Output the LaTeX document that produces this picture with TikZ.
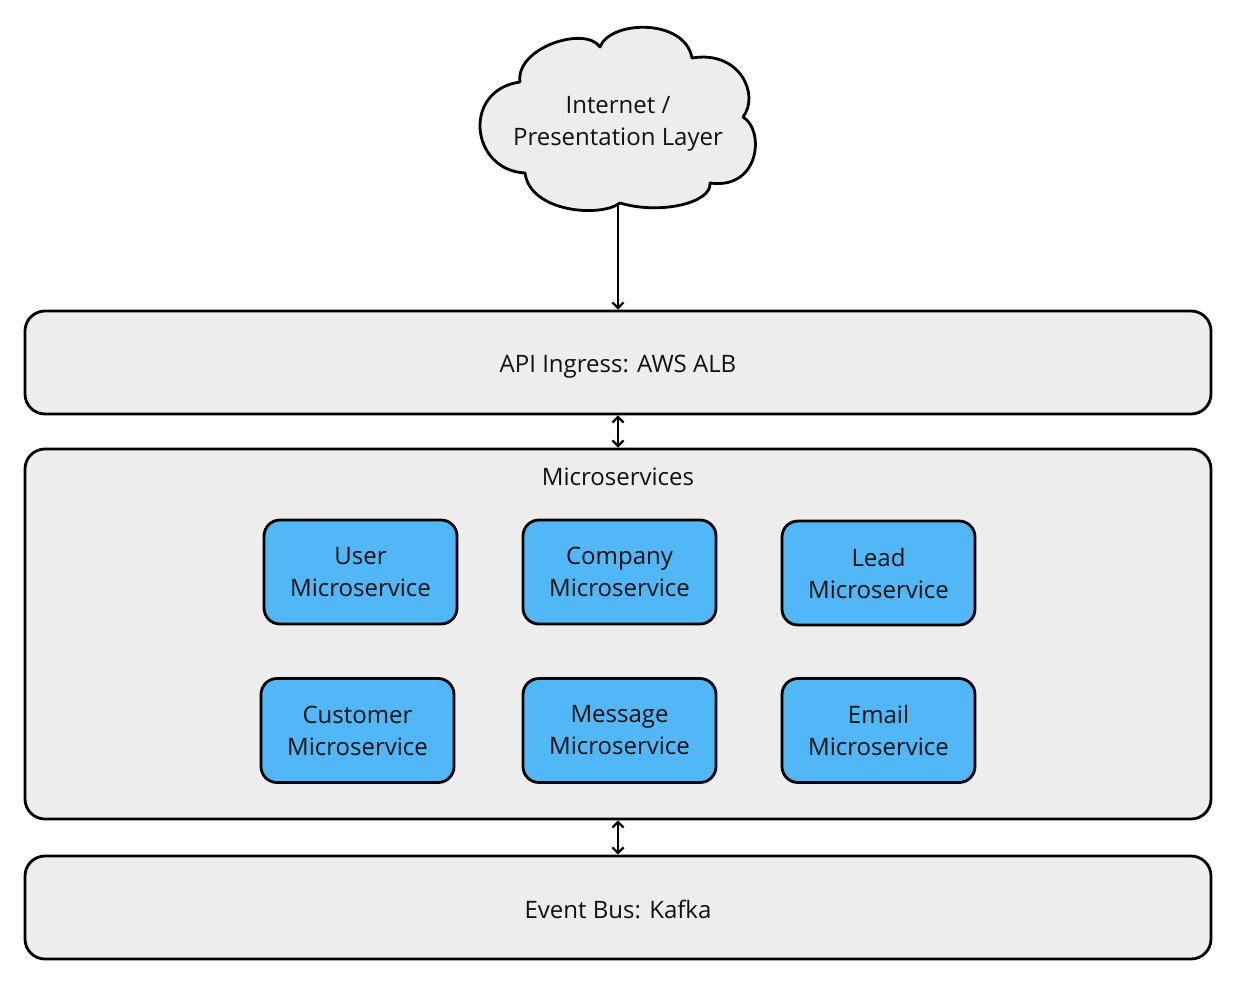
\documentclass[tikz,border=0pt]{standalone}
\usepackage{fontspec}
\setmainfont{Open Sans}
\usetikzlibrary{arrows.meta}
\definecolor{layergrey}{HTML}{EDEDED}
\definecolor{svcblue}{HTML}{52B7F7}
\definecolor{ink}{HTML}{111111}
\tikzset{
  txt/.style={text=ink, font=\fontsize{24}{32}\selectfont},
  layer/.style={draw=black, line width=2.8pt, fill=layergrey, rounded corners=20pt, minimum width=1186pt, inner sep=0pt, txt},
  svc/.style={draw=black, line width=2.8pt, fill=svcblue, rounded corners=16pt, minimum width=193pt, minimum height=104pt, inner sep=0pt, align=center, txt},
  conn/.style={line width=2.3pt, -{Straight Barb[length=5.5pt,width=11pt,line width=2.3pt]}},
  dconn/.style={line width=2.3pt, {Straight Barb[length=5.5pt,width=11pt,line width=2.3pt]}-{Straight Barb[length=5.5pt,width=11pt,line width=2.3pt]}},
  lbl/.style={txt, align=center}
}
\begin{document}
\begin{tikzpicture}[x=1pt,y=-1pt]
\useasboundingbox (0,0) rectangle (1240,988);
% cloud
\draw[line width=2.8pt, fill=layergrey, line join=round]
  (520,82) .. controls (515,48) and (585,25) .. (600,47)
  .. controls (610,20) and (685,18) .. (692,58)
  .. controls (740,50) and (760,95) .. (743,117)
  .. controls (765,130) and (760,190) .. (710,183)
  .. controls (712,203) and (660,215) .. (620,203)
  .. controls (600,218) and (530,212) .. (525,173)
  .. controls (470,170) and (462,90) .. (520,82) -- cycle;
\node[lbl] (cloud) at (618,124) {Internet /\\Presentation Layer};
\coordinate (cloudbot) at (618,204);
% layers
\node[layer, minimum height=103pt] (api) at (618,362.5) {\raisebox{-4pt}[\height][\depth]{API Ingress: AWS ALB}};
\node[layer, minimum height=370pt] (ms) at (618,634) {};
\node[lbl, anchor=center] (mslbl) at (618,477) {Microservices};
\node[layer, minimum height=103pt] (bus) at (618,907.5) {\raisebox{-2pt}[\height][\depth]{Event Bus: Kafka}};
% services
\node[svc] (user) at (360.5,572) {User\\Microservice};
\node[svc] (company) at (619.5,572) {Company\\Microservice};
\node[svc] (lead) at (878.5,573) {Lead\\Microservice};
\node[svc] (customer) at (357.5,730.5) {Customer\\Microservice};
\node[svc] (message) at (619.5,730.5) {Message\\Microservice};
\node[svc] (email) at (878.5,730.5) {Email\\Microservice};
% connectors
\draw[conn] (cloudbot) -- (api.north);
\draw[dconn] (api.south) -- (ms.north);
\draw[dconn] (ms.south) -- (bus.north);
\end{tikzpicture}
\end{document}
